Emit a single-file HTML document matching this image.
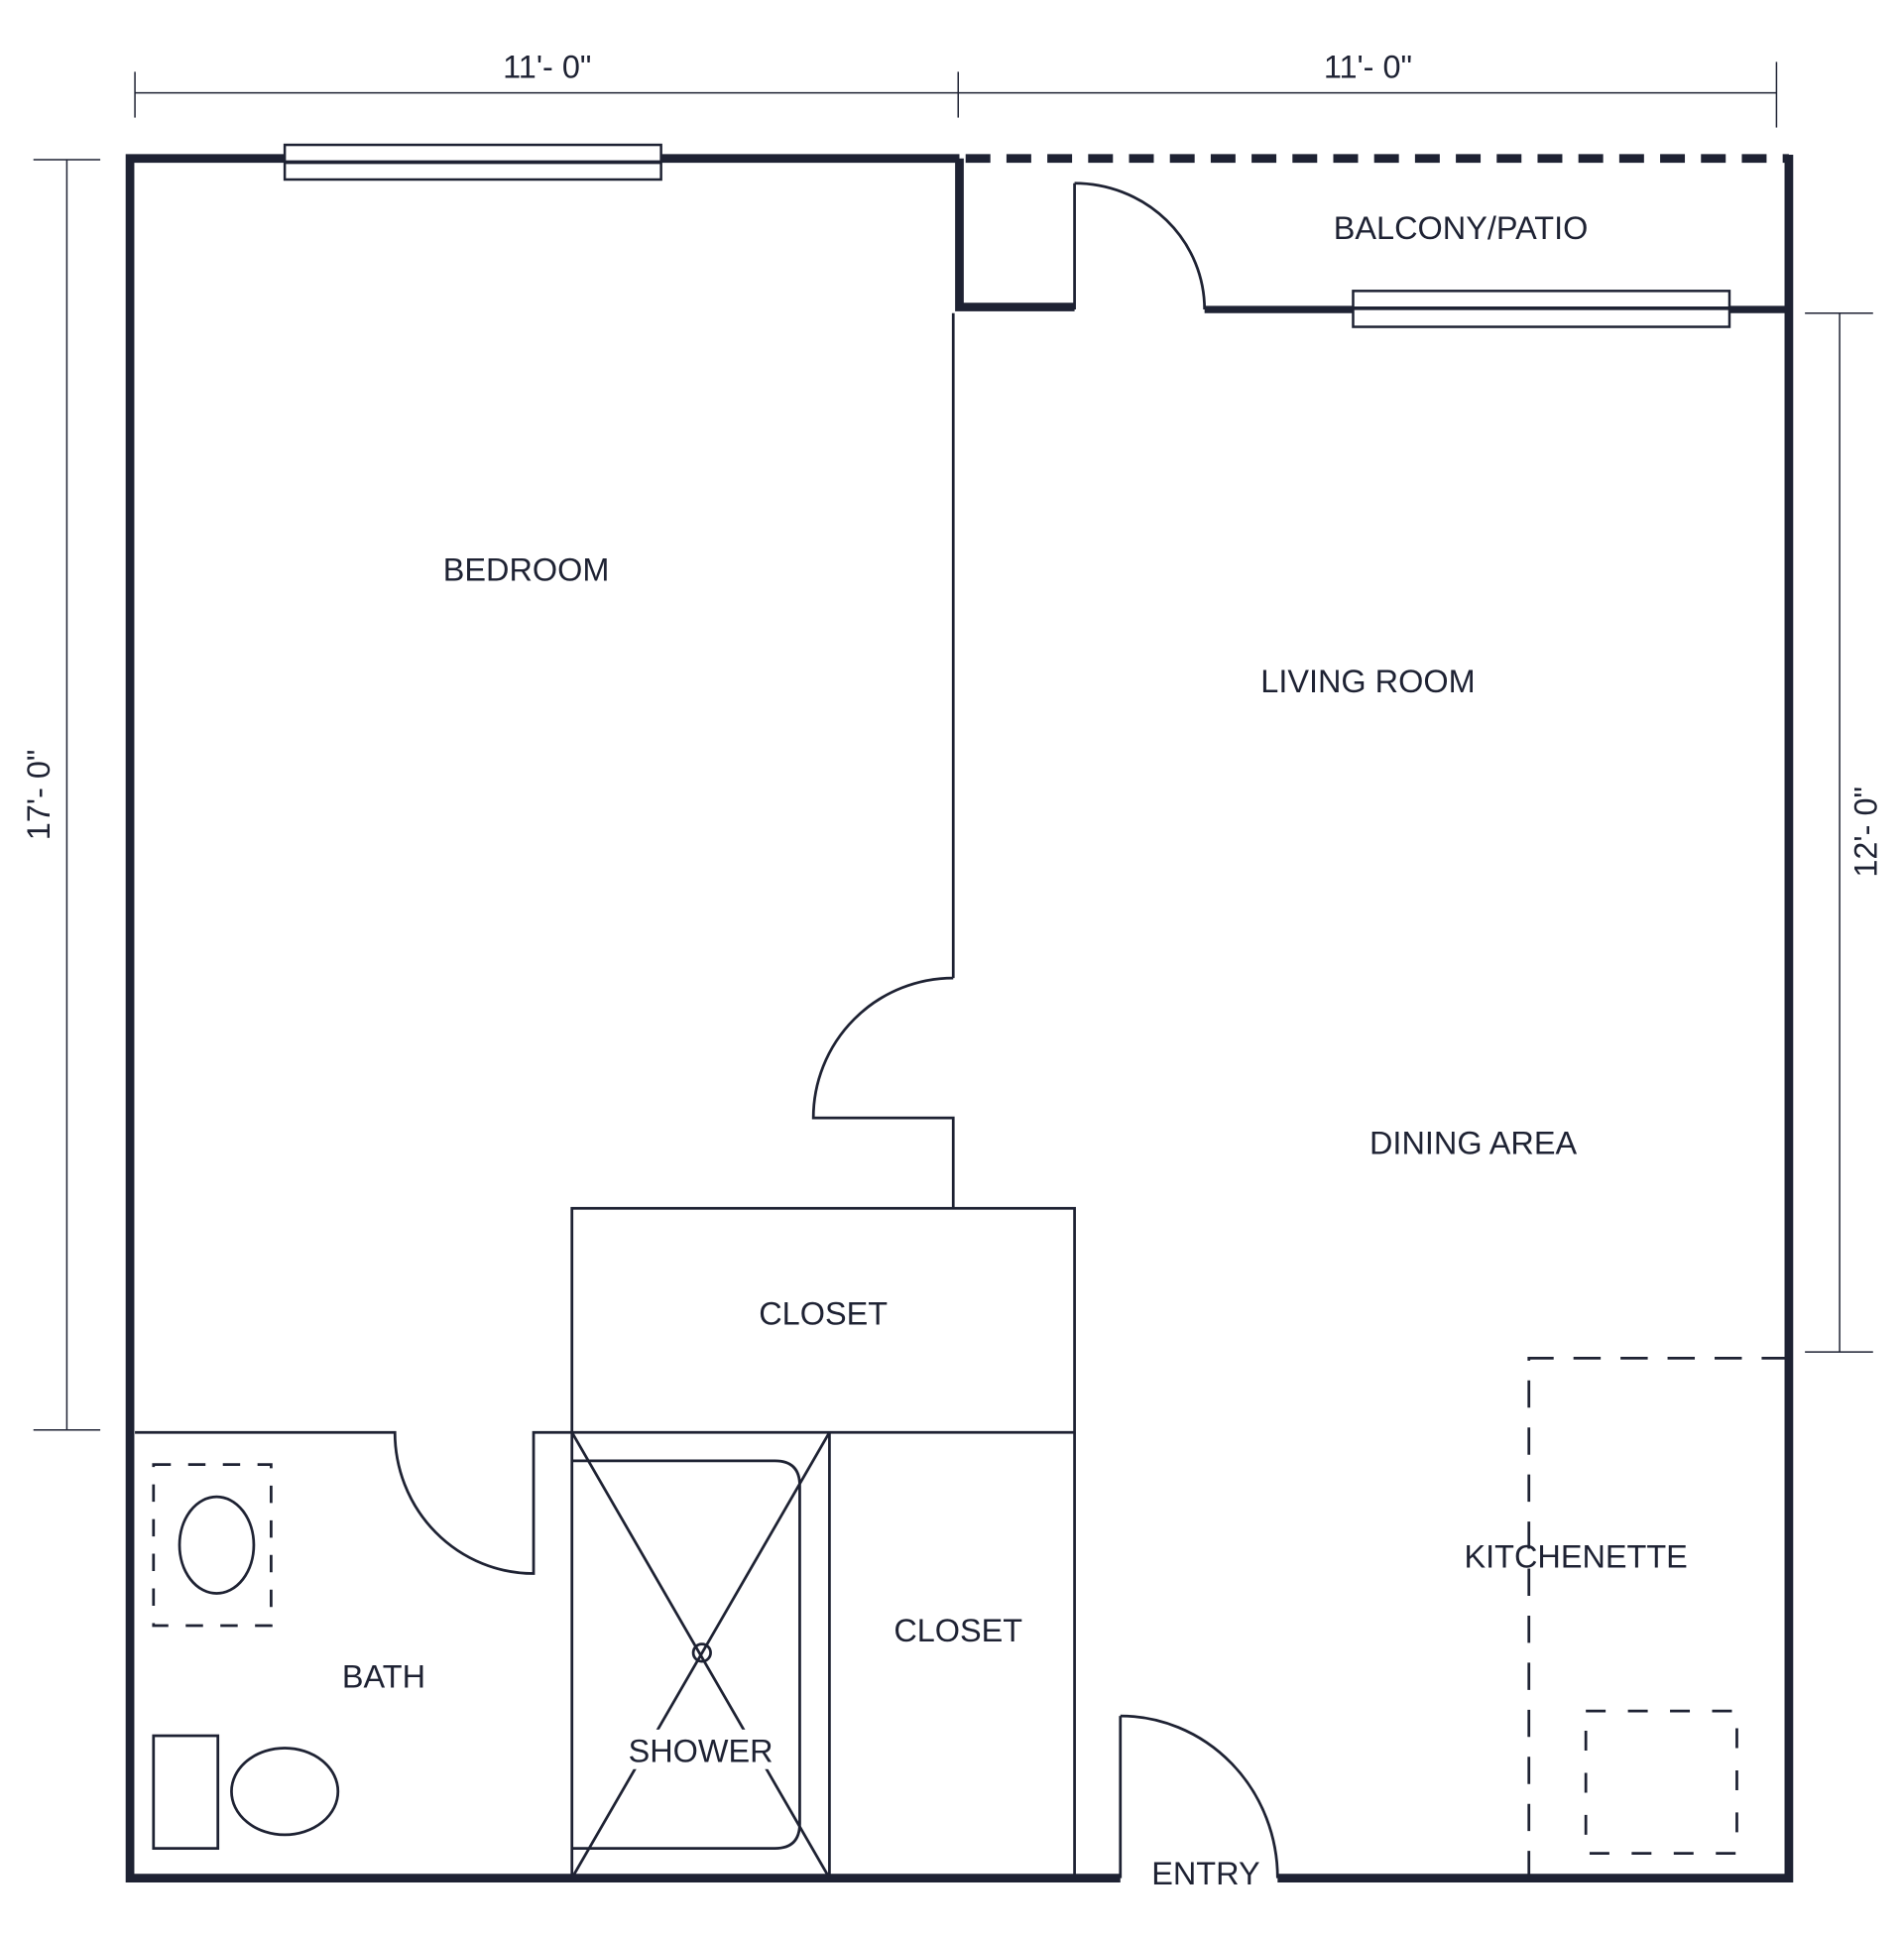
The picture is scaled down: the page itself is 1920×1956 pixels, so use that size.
<!DOCTYPE html>
<html><head><style>
html,body{margin:0;padding:0;background:#fff;}
svg{display:block;}
text{font-family:"Liberation Sans",Arial,sans-serif;fill:#1e2233;font-size:26px;}
</style></head><body>
<svg width="1920" height="1956" viewBox="0 0 1538 1567" preserveAspectRatio="none" xmlns="http://www.w3.org/2000/svg">
<g stroke="#1e2233" fill="none">
<g stroke-width="1.2">
<line x1="109" y1="75" x2="1435" y2="75"/>
<line x1="109" y1="58" x2="109" y2="95"/>
<line x1="774" y1="58" x2="774" y2="95"/>
<line x1="1435" y1="50" x2="1435" y2="103"/>
<line x1="54" y1="129" x2="54" y2="1155"/>
<line x1="27" y1="129" x2="81" y2="129"/>
<line x1="27" y1="1155" x2="81" y2="1155"/>
<line x1="1486" y1="253" x2="1486" y2="1092"/>
<line x1="1458" y1="253" x2="1513" y2="253"/>
<line x1="1458" y1="1092" x2="1513" y2="1092"/>
</g>
<g stroke-width="7">
<polyline points="775,128 105,128 105,1517 905,1517"/>
<polyline points="1032,1517 1445,1517 1445,125"/>
<line x1="780" y1="128" x2="1445" y2="128" stroke-dasharray="20,13"/>
<polyline points="775,128 775,248 868,248"/>
<line x1="973" y1="250" x2="1445" y2="250" stroke-width="6"/>
</g>
<g stroke-width="2" fill="#fff">
<rect x="230" y="117" width="304" height="28"/>
<line x1="230" y1="131" x2="534" y2="131" stroke-width="3"/>
<rect x="1093" y="235" width="304" height="29"/>
<line x1="1093" y1="249" x2="1397" y2="249" stroke-width="3"/>
</g>
<g stroke-width="2.2">
<line x1="868" y1="148" x2="868" y2="250"/>
<path d="M868,148 A105,102 0 0 1 973,250"/>
<line x1="770" y1="253" x2="770" y2="790"/>
<path d="M770,790 A113,113 0 0 0 657,903 L770,903 L770,975"/>
<rect x="462" y="976" width="406" height="181"/>
<line x1="868" y1="1157" x2="868" y2="1517"/>
<line x1="670" y1="1157" x2="670" y2="1517"/>
<line x1="462" y1="1157" x2="462" y2="1517"/>
<path d="M462,1180 L626,1180 Q646,1180 646,1200 L646,1473 Q646,1493 626,1493 L462,1493"/>
<line x1="462" y1="1157" x2="670" y2="1517"/>
<line x1="670" y1="1157" x2="462" y2="1517"/>
<circle cx="567" cy="1335" r="7"/>
<path d="M109,1157 L319,1157 A112,114 0 0 0 431,1271 L431,1157 L462,1157"/>
<rect x="124" y="1183" width="95" height="130" stroke-dasharray="14,14"/>
<ellipse cx="175" cy="1248" rx="30" ry="39"/>
<rect x="124" y="1402" width="52" height="91"/>
<ellipse cx="230" cy="1447" rx="43" ry="35"/>
<line x1="905" y1="1386" x2="905" y2="1517"/>
<path d="M905,1386 A127,131 0 0 1 1032,1517"/>
<polyline points="1445,1097 1235,1097 1235,1517" stroke-dasharray="22,16"/>
<rect x="1281" y="1382" width="122" height="115" stroke-dasharray="16,18"/>
</g>
</g>
<g text-anchor="middle">
<text x="442" y="63" font-size="21">11'- 0"</text>
<text x="1105" y="63" font-size="21">11'- 0"</text>
<text transform="translate(40,642) rotate(-90)" font-size="21">17'- 0"</text>
<text transform="translate(1516,672) rotate(-90)" font-size="21">12'- 0"</text>
<text x="425" y="469">BEDROOM</text>
<text x="1105" y="559">LIVING ROOM</text>
<text x="1190" y="932">DINING AREA</text>
<text x="1180" y="193">BALCONY/PATIO</text>
<text x="665" y="1070">CLOSET</text>
<text x="774" y="1326">CLOSET</text>
<text x="310" y="1363">BATH</text>
<rect x="497" y="1397" width="139" height="32" fill="#fff"/>
<text x="566" y="1423">SHOWER</text>
<text x="1273" y="1266">KITCHENETTE</text>
<text x="974" y="1522">ENTRY</text>
</g>
</svg>
</body></html>
